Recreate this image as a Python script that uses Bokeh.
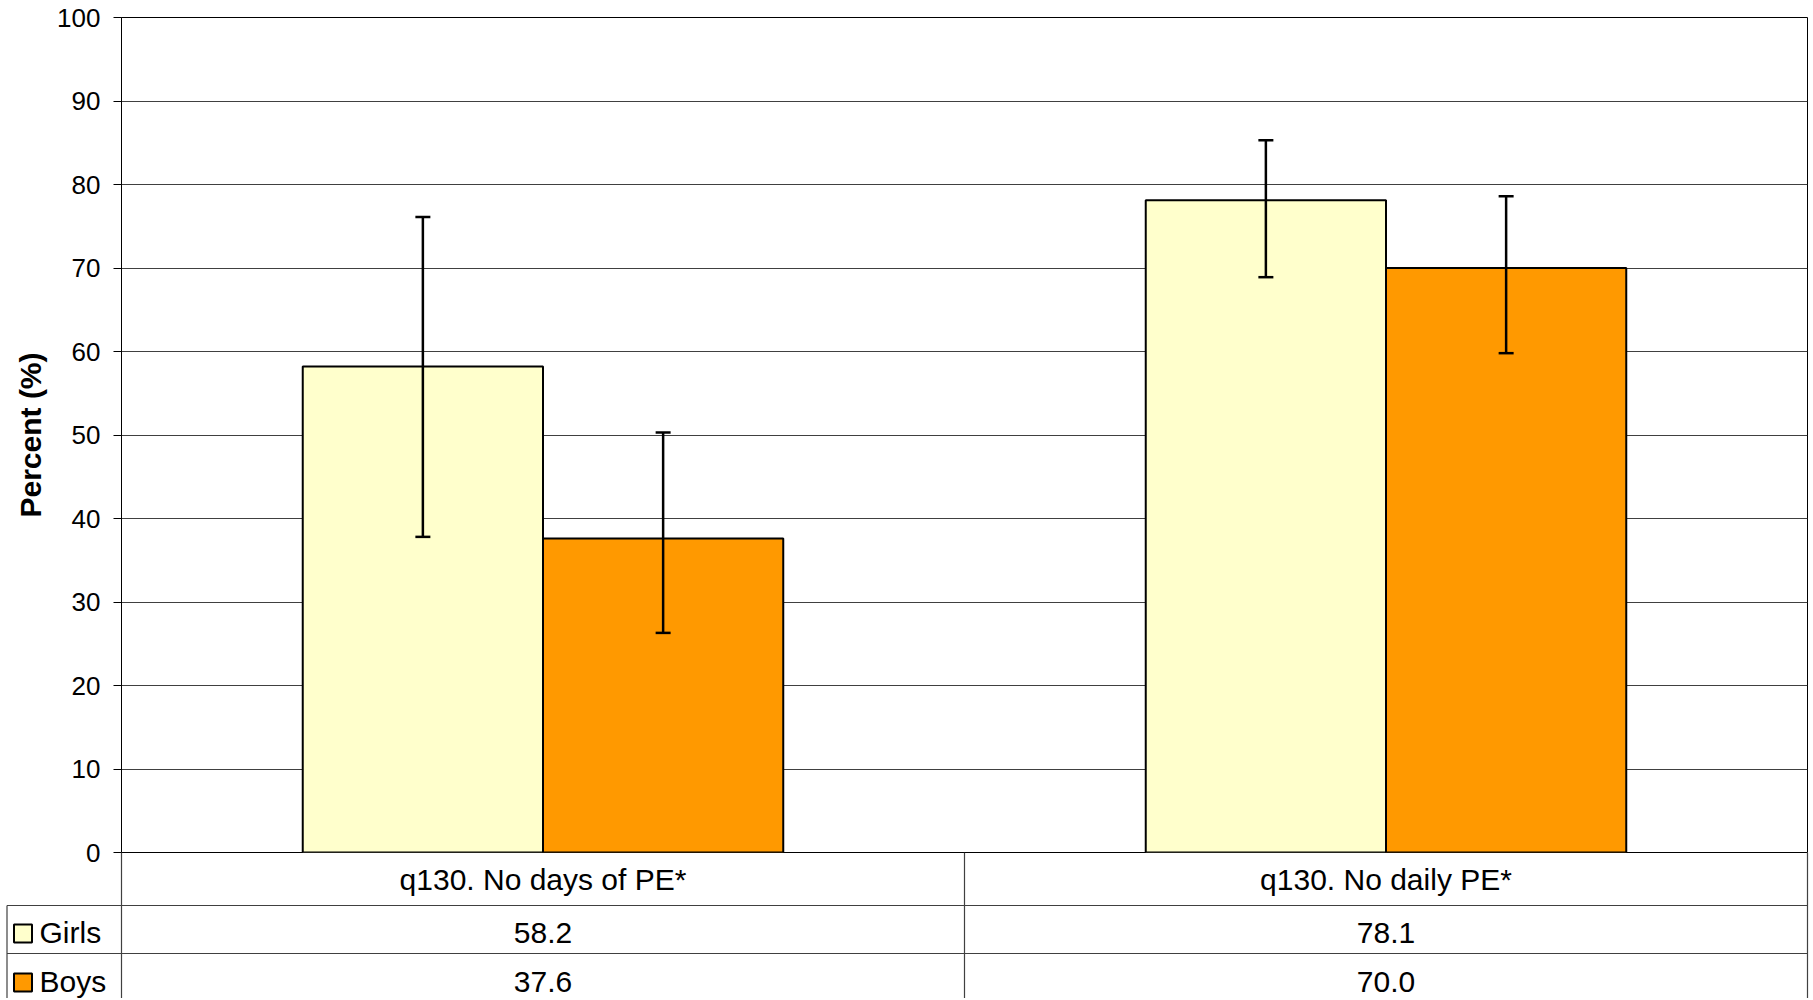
from bokeh.plotting import figure
from bokeh.models import ColumnDataSource, FactorRange, Range1d, Whisker, TeeHead, FixedTicker
from bokeh.transform import dodge
from bokeh.core.properties import value
from bokeh.embed import file_html
from bokeh.resources import INLINE

# ---- data ----
categories = ["q130. No days of PE*", "q130. No daily PE*"]
series = ["Girls", "Boys"]
girls = [58.2, 78.1]
girls_lower = [37.8, 68.9]
girls_upper = [76.1, 85.3]
boys = [37.6, 70.0]
boys_lower = [26.3, 59.8]
boys_upper = [50.3, 78.6]
y_ticks = [0, 10, 20, 30, 40, 50, 60, 70, 80, 90, 100]

# ---- style / layout ----
FONT = "Liberation Sans"
GIRLS_COLOR = "#FFFFCC"
BOYS_COLOR = "#FF9900"
W = 1811
LEFT = 121
RIGHT = W - 1807
TOP = 17
OVERLAP = 14
CHART_H = 852 + OVERLAP
TABLE_H = 146
BAR_W = 0.285
TXT = "30px"

src = ColumnDataSource(dict(
    cat=categories, girls=girls, girls_lo=girls_lower, girls_hi=girls_upper,
    boys=boys, boys_lo=boys_lower, boys_hi=boys_upper,
))

p = figure(x_range=FactorRange(*categories), y_range=Range1d(0, 100),
           width=W, height=CHART_H, output_backend="svg", toolbar_location=None,
           x_axis_location=None,
           min_border_left=LEFT, min_border_right=RIGHT, min_border_top=TOP,
           min_border_bottom=OVERLAP)
p.background_fill_color = "white"
p.border_fill_color = "white"
p.outline_line_color = "black"
p.outline_line_width = 1
p.xgrid.visible = False
p.ygrid.ticker = FixedTicker(ticks=y_ticks)
p.ygrid.grid_line_color = "#404040"
p.ygrid.grid_line_width = 1

ax = p.yaxis[0]
ax.ticker = FixedTicker(ticks=y_ticks)
ax.axis_line_color = "black"
ax.axis_line_width = 1
ax.major_tick_out = 8
ax.major_tick_in = 0
ax.minor_tick_out = 0
ax.minor_tick_in = 0
ax.major_tick_line_color = "black"
ax.major_label_text_font = FONT
ax.major_label_text_font_size = "26px"
ax.major_label_text_color = "black"
ax.major_label_standoff = 13
ax.axis_label = "Percent (%)"
ax.axis_label_text_font = FONT
ax.axis_label_text_font_size = "30px"
ax.axis_label_text_font_style = "bold"
ax.axis_label_text_color = "black"
ax.axis_label_standoff = 7

p.vbar(x=dodge("cat", -BAR_W / 2, range=p.x_range), top="girls", width=BAR_W, source=src,
       fill_color=GIRLS_COLOR, line_color="black", line_width=2)
p.vbar(x=dodge("cat", BAR_W / 2, range=p.x_range), top="boys", width=BAR_W, source=src,
       fill_color=BOYS_COLOR, line_color="black", line_width=2)

for off, lo, hi in [(-BAR_W / 2, "girls_lo", "girls_hi"), (BAR_W / 2, "boys_lo", "boys_hi")]:
    w = Whisker(base=dodge("cat", off, range=p.x_range), lower=lo, upper=hi, source=src,
                line_color="black", line_width=2.5,
                upper_head=TeeHead(size=15, line_width=2.5, line_color="black"),
                lower_head=TeeHead(size=15, line_width=2.5, line_color="black"),
                level="annotation")
    p.add_layout(w)

# ---- data table under the chart ----
frame_w = W - LEFT - RIGHT
ppu = frame_w / len(categories)          # pixels per category unit
x_start = -LEFT / ppu
x_end = (W - LEFT) / ppu

def px(c):
    return x_start + c / ppu

t = figure(width=W, height=TABLE_H, x_range=Range1d(x_start, x_end), y_range=Range1d(TABLE_H, 0),
           x_axis_location=None, y_axis_location=None, output_backend="svg", toolbar_location=None,
           min_border=0)
t.outline_line_color = None
t.xgrid.visible = False
t.ygrid.visible = False
t.background_fill_alpha = 0
t.border_fill_alpha = 0
t.styles = {"margin-top": f"-{OVERLAP}px"}

row_lines = [53, 101]
n = len(categories)
left_edge = px(6.5)
seg_x0 = [left_edge] * len(row_lines) + [0, 1, n] + [left_edge]
seg_x1 = [n] * len(row_lines) + [0, 1, n] + [left_edge]
seg_y0 = row_lines + [0, 0, 0] + [53]
seg_y1 = row_lines + [TABLE_H, TABLE_H, TABLE_H] + [TABLE_H]
t.segment(x0=seg_x0, y0=seg_y0, x1=seg_x1, y1=seg_y1, line_color="#404040", line_width=1.2)

cat_x = [i + 0.5 for i in range(n)]
t.text(x=cat_x, y=[27] * n, text=categories, text_align="center", text_baseline="middle",
       text_font=value(FONT), text_font_size=TXT, text_color="black")
t.text(x=cat_x, y=[80] * n, text=[f"{v:.1f}" for v in girls], text_align="center",
       text_baseline="middle", text_font=value(FONT), text_font_size=TXT, text_color="black")
t.text(x=cat_x, y=[129] * n, text=[f"{v:.1f}" for v in boys], text_align="center",
       text_baseline="middle", text_font=value(FONT), text_font_size=TXT, text_color="black")

t.rect(x=[px(22.5)] * 2, y=[81, 130], width=18, height=18, width_units="screen",
       height_units="screen", fill_color=[GIRLS_COLOR, BOYS_COLOR], line_color="black",
       line_width=2)
t.text(x=[px(39)] * 2, y=[80, 129], text=series, text_align="left", text_baseline="middle",
       text_font=value(FONT), text_font_size=TXT, text_color="black")

open("out.html", "w").write(file_html([p, t], INLINE))
